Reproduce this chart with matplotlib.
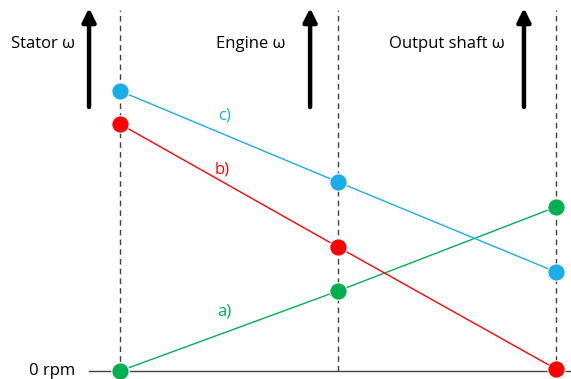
import matplotlib
matplotlib.use("Agg")
from matplotlib import pyplot as plt

# shafts (x positions 0, 1, 2) and speeds (arbitrary units, 0 = 0 rpm)
shafts = ["Stator ω", "Engine ω", "Output shaft ω"]
case_a = [0, 80, 164]
case_b = [247, 124, 2]
case_c = [280, 189, 99]
case_labels = ["a)", "b)", "c)"]

green = "#00B050"
red = "#FF0000"
blue = "#1AADEA"

fig = plt.figure(figsize=(5.71, 3.79), dpi=100)
ax = fig.add_axes([0, 0, 1, 1])
ax.set_xlim(-0.5505, 2.0688)
ax.set_ylim(-8, 371)
ax.axis("off")

xs = [0, 1, 2]
font = "Open Sans"

# baseline
ax.plot([-0.14, 2.07], [0, 0], color="#404040", lw=1, zorder=1)
ax.text(-0.205, 0, "0 rpm", ha="right", va="center", fontsize=12, family=font)

# dashed shaft lines
for x in xs:
    ax.plot([x, x], [0, 361], color="#404040", lw=1, ls=(0, (4, 3)), zorder=1)

# arrows and titles
arrow_x = [-0.142, 0.872, 1.853]
title_x = [-0.206, 0.757, 1.766]
for x, tx, name in zip(arrow_x, title_x, shafts):
    ax.annotate("", xy=(x, 363), xytext=(x, 264),
                arrowprops=dict(arrowstyle="-|>,head_width=0.4,head_length=0.8",
                                color="black", lw=3.2, shrinkA=0, shrinkB=0))
    ax.text(tx, 327, name, ha="right", va="center", fontsize=12, family=font)

for vals, col in [(case_a, green), (case_b, red), (case_c, blue)]:
    ax.plot(xs, vals, color=col, lw=1, zorder=2)
    ax.plot(xs, vals, "o", color=col, ms=12.5, mec="white", mew=0.8, zorder=3)

ax.text(0.48, 60, case_labels[0], color=green, fontsize=12, ha="center", va="center", family=font)
ax.text(0.47, 201, case_labels[1], color=red, fontsize=12, ha="center", va="center", family=font)
ax.text(0.48, 256, case_labels[2], color=blue, fontsize=12, ha="center", va="center", family=font)

fig.savefig("out.png", dpi=100)
